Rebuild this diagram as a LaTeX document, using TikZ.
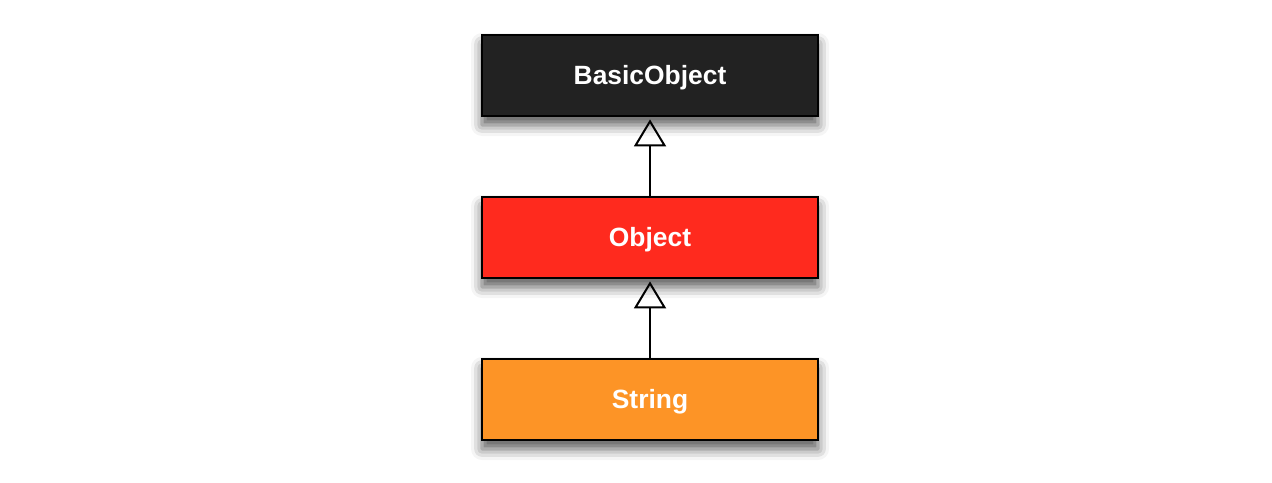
\documentclass[tikz,border=0pt]{standalone}
\usepackage{fontspec}
\setmainfont{Liberation Sans}
\usetikzlibrary{arrows.meta,shadows.blur}
\definecolor{cdark}{RGB}{34,34,34}
\definecolor{cred}{RGB}{255,42,30}
\definecolor{corange}{RGB}{253,148,38}
\begin{document}
\begin{tikzpicture}[x=0.5pt,y=-0.5pt,
  cls/.style={draw=black, line width=1pt, minimum width=168pt, minimum height=40.5pt,
    inner sep=0pt, text=white, text height=9.5pt, text depth=0.7pt,
    font=\bfseries\fontsize{13.2}{15}\selectfont,
    blur shadow={shadow xshift=0pt, shadow yshift=-4.5pt, shadow blur radius=5.5pt, shadow opacity=65}},
  inh/.style={line width=1pt, -{Triangle[open, width=16pt, length=13.5pt, line width=1pt]}, shorten >=1.2pt}]
  \useasboundingbox (0,0) rectangle (1272,482);
  \node[cls, fill=cdark] (basic) at (650,75.5) {BasicObject};
  \node[cls, fill=cred] (obj) at (650,237.5) {Object};
  \node[cls, fill=corange] (str) at (650,399.5) {String};
  \draw[inh] (obj.north) -- (basic.south);
  \draw[inh] (str.north) -- (obj.south);
\end{tikzpicture}
\end{document}
